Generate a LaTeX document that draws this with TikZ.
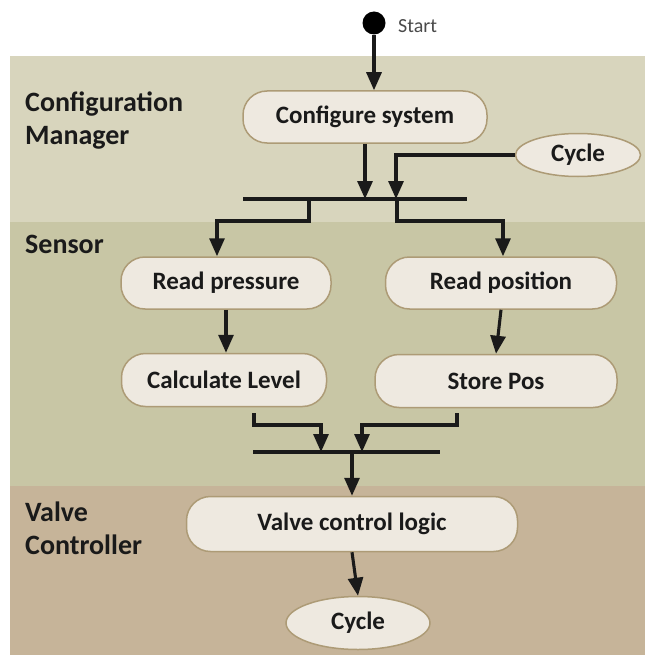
\documentclass[tikz,border=0pt]{standalone}
\usepackage{fontspec}
\setmainfont{Carlito}
\usetikzlibrary{arrows.meta,shapes.geometric,calc}

\definecolor{laneA}{HTML}{D8D5BD}
\definecolor{laneB}{HTML}{C8C6A5}
\definecolor{laneC}{HTML}{C6B499}
\definecolor{nodefill}{HTML}{EEE9E0}
\definecolor{nodeline}{HTML}{AD9B76}
\definecolor{ink}{HTML}{1A1A1A}
\definecolor{softink}{HTML}{4A4A4A}

\begin{document}
\begin{tikzpicture}[x=1pt,y=-1pt,
  lanelabel/.style={anchor=base west, inner sep=0pt, text=ink,
    font=\fontsize{28}{32}\selectfont\bfseries},
  activity/.style={draw=nodeline, line width=1.5pt, fill=nodefill,
    rounded corners=24pt, minimum height=52pt, inner sep=0pt, text=ink,
    font=\fontsize{25}{30}\selectfont\bfseries},
  cyclenode/.style={ellipse, draw=nodeline, line width=1.5pt, fill=nodefill,
    inner sep=0pt, text=ink, font=\fontsize{25}{30}\selectfont\bfseries},
  flow/.style={draw=ink, line width=3.1pt, -{Triangle[length=18pt,width=15pt]}},
  barline/.style={draw=ink, line width=3.1pt}
]
\useasboundingbox (0,0) rectangle (645,658);
\fill[white] (0,0) rectangle (645,658);

% swim lanes
\fill[laneA] (10,56) rectangle (645,222);
\fill[laneB] (10,222) rectangle (645,486);
\fill[laneC] (10,486) rectangle (645,655);

% lane titles
\node[lanelabel] (cmA) at (25,112) {Configuration};
\node[lanelabel] (cmB) at (25,144) {Manager};
\node[lanelabel] (sn) at (25,253) {Sensor};
\node[lanelabel] (vcA) at (25,521) {Valve};
\node[lanelabel] (vcB) at (25,554) {Controller};

% initial state
\node[circle, fill=black, minimum size=23pt, inner sep=0pt] (start) at (374,23) {};
\node[anchor=base west, inner sep=0pt, text=softink,
      font=\fontsize{20}{24}\selectfont] (startlbl) at (398,33) {Start};

% activities
\node[activity, minimum width=244pt] (cfg) at (365,117) {Configure system};
\node[cyclenode, minimum width=125pt, minimum height=43pt] (cyc1) at (578,155) {Cycle};
\node[activity, minimum width=210pt] (rpres) at (226,283) {Read pressure};
\node[activity, minimum width=231pt] (rpos) at (501,283) {Read position};
\node[activity, minimum width=205pt, minimum height=53pt] (calc) at (224,380) {Calculate Level};
\node[activity, minimum width=242pt, minimum height=53pt] (store) at (496,381) {Store Pos};
\node[activity, minimum width=331pt, minimum height=55pt] (valve) at (352,524) {Valve control logic};
\node[cyclenode, minimum width=144pt, minimum height=53pt] (cyc2) at (358,623) {Cycle};

% fork / join bars
\coordinate (b1l) at (243,199);
\coordinate (b1r) at (467,199);
\coordinate (b2l) at (253,452);
\coordinate (b2r) at (440,452);
\draw[barline] (b1l) -- (b1r);
\draw[barline] (b2l) -- (b2r);

% branch points
\coordinate (j1) at (396,199);
\coordinate (f1) at (309,199);
\coordinate (f1k) at (217,221);
\coordinate (f2) at (397,199);
\coordinate (f2k) at (503,221);
\coordinate (m1) at (254,413);
\coordinate (m1k) at (321,425);
\coordinate (m2) at (457,413);
\coordinate (m2k) at (362,425);
\coordinate (j2) at (352,452);

% control flow
\draw[flow] (start) -- (start |- cfg.north);
\draw[flow] (cfg.south) -- (cfg.south |- b1l);
\draw[flow] (cyc1.west) -| (j1);
\draw[flow] (f1) |- (f1k) -- (f1k |- rpres.north);
\draw[flow] (f2) |- (f2k) -- (f2k |- rpos.north);
\draw[flow] (rpres.south) -- (rpres.south |- calc.north);
\draw[flow] (rpos.south) -- (store.north);
\draw[flow] (m1) |- (m1k) -- (m1k |- b2l);
\draw[flow] (m2) |- (m2k) -- (m2k |- b2l);
\draw[flow] (j2) -- (valve.north);
\draw[flow] (valve.south) -- (cyc2.north);
\end{tikzpicture}
\end{document}
